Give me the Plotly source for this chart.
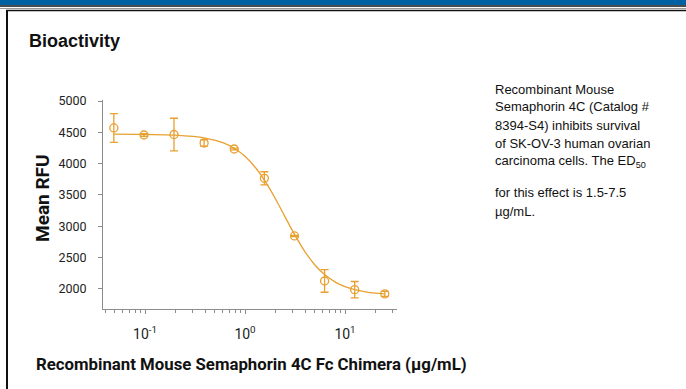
import plotly.graph_objects as go

# ---- data ----
conc = [0.0488, 0.0977, 0.195, 0.39, 0.78, 1.5625, 3.125, 6.25, 12.5, 25]
mean_rfu = [4570, 4457, 4465, 4330, 4234, 3766, 2846, 2127, 1989, 1920]
err_rfu = [230, 20, 260, 50, 15, 105, 10, 180, 130, 40]

fit_x = [0.0488, 0.1, 0.2, 0.4, 0.6, 0.8, 1.0, 1.3, 1.6, 2.0, 2.5, 3.125, 4, 5,
         6.25, 8, 10, 12.5, 16, 20, 25]
fit_y = [4470, 4466, 4455, 4409, 4334, 4235, 4117, 3919, 3712, 3448, 3159, 2871,
         2589, 2383, 2229, 2109, 2036, 1988, 1954, 1934, 1922]

x_tickvals = [0.1, 1, 10]
x_ticktext = ["10<sup>-1</sup>", "10<sup>0</sup>", "10<sup>1</sup>"]
x_minor_tickvals = [0.04, 0.05, 0.06, 0.07, 0.08, 0.09,
                    0.2, 0.3, 0.4, 0.5, 0.6, 0.7, 0.8, 0.9,
                    2, 3, 4, 5, 6, 7, 8, 9, 20, 30]
y_tickvals = [2000, 2500, 3000, 3500, 4000, 4500, 5000]

ORANGE = "#E8A030"
NARROW = "Roboto, Liberation Sans Narrow, sans-serif"
ARIAL = "Liberation Sans, Arial, sans-serif"

W, H = 686, 389
L, R, T, B = 103, 397, 100, 309  # plot-area pixel box

def px(x):
    return (x - L) / (R - L)

def py(y):
    return (B - y) / (B - T)

fig = go.Figure()
fig.add_trace(go.Scatter(x=fit_x, y=fit_y, mode="lines", line=dict(color=ORANGE, width=1.3, shape="spline"),
                         hoverinfo="skip", showlegend=False))
fig.add_trace(go.Scatter(x=conc, y=mean_rfu, mode="markers",
                         marker=dict(symbol="circle-open", size=8, color=ORANGE, line=dict(width=1.3, color=ORANGE)),
                         error_y=dict(type="data", array=err_rfu, color=ORANGE, thickness=1.3, width=4),
                         showlegend=False))

shapes = [
    dict(type="rect", xref="paper", yref="paper", x0=px(0), x1=px(W), y0=py(0), y1=py(5),
         fillcolor="#0062A3", line=dict(width=0), layer="above"),
    dict(type="line", xref="paper", yref="paper", x0=px(0), x1=px(W), y0=py(6), y1=py(6),
         line=dict(color="#111111", width=1.5)),
    dict(type="line", xref="paper", yref="paper", x0=px(0), x1=px(W), y0=py(8.5), y1=py(8.5),
         line=dict(color="#999999", width=1)),
    dict(type="line", xref="paper", yref="paper", x0=px(6), x1=px(W), y0=py(10.5), y1=py(10.5),
         line=dict(color="#111111", width=1.5)),
    dict(type="line", xref="paper", yref="paper", x0=px(7), x1=px(7), y0=py(10), y1=py(H),
         line=dict(color="#111111", width=2)),
]

side_lines = ["Recombinant Mouse", "Semaphorin 4C (Catalog #", "8394-S4) inhibits survival",
              "of SK-OV-3 human ovarian", "carcinoma cells. The ED<sub>50</sub>",
              "for this effect is 1.5-7.5", "µg/mL."]
side_y = [89, 107, 125, 143, 161, 192, 211]

annotations = [
    dict(text="<b>Bioactivity</b>", x=px(27), y=py(41), xref="paper", yref="paper",
         xanchor="left", yanchor="middle", showarrow=False,
         font=dict(family=ARIAL, size=18, color="#111111")),
    dict(text="<b>Mean RFU</b>", x=px(42), y=py(198), xref="paper", yref="paper", textangle=-90,
         xanchor="center", yanchor="middle", showarrow=False,
         font=dict(family=NARROW, size=19, color="#111111")),
    dict(text="<b>Recombinant Mouse Semaphorin 4C Fc Chimera (µg/mL)</b>", x=px(34), y=py(364),
         xref="paper", yref="paper", xanchor="left", yanchor="middle", showarrow=False,
         font=dict(family=NARROW, size=16.8, color="#111111")),
]
for t, yy in zip(side_lines, side_y):
    annotations.append(dict(text=t, x=px(493), y=py(yy), xref="paper", yref="paper",
                            xanchor="left", yanchor="middle", showarrow=False, align="left",
                            font=dict(family=ARIAL, size=13, color="#111111")))

fig.update_layout(
    width=W, height=H,
    margin=dict(l=L, r=W - R, t=T, b=H - B, pad=0),
    paper_bgcolor="white", plot_bgcolor="white",
    shapes=shapes, annotations=annotations,
    xaxis=dict(type="log", range=[-1.42, 1.52], tickvals=x_tickvals, ticktext=x_ticktext,
               showgrid=False, zeroline=False, showline=True, linecolor="#8c8c8c", linewidth=1,
               ticks="outside", ticklen=4, tickcolor="#8c8c8c",
               minor=dict(tickvals=x_minor_tickvals, ticks="outside", ticklen=3,
                          tickcolor="#8c8c8c", showgrid=False),
               tickfont=dict(family=NARROW, size=14, color="#222222"), ticklabelstandoff=8),
    yaxis=dict(range=[1680, 5016], tickvals=y_tickvals, showgrid=False, zeroline=False,
               showline=True, linecolor="#8c8c8c", linewidth=1, ticks="outside", ticklen=4,
               tickcolor="#8c8c8c", tickfont=dict(family=NARROW, size=12.5, color="#222222"),
               ticklabelstandoff=9),
)

fig.write_html("out.html", config={"displayModeBar": False},
               post_script="document.body.style.margin='0';document.body.style.padding='0';")
